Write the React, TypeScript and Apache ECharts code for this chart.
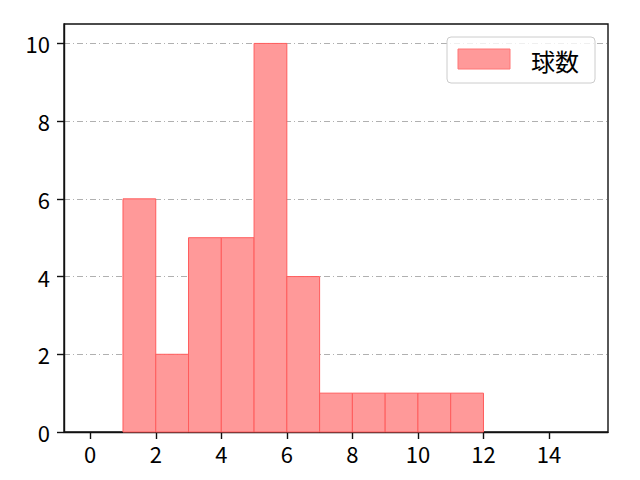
import React, { useEffect, useRef } from "react";
import * as echarts from "echarts";

const binStarts = [1, 2, 3, 4, 5, 6, 7, 8, 9, 10, 11];
const counts = [6, 2, 5, 5, 10, 4, 1, 1, 1, 1, 1];
const binWidth = 1;
const xTicks = [0, 2, 4, 6, 8, 10, 12, 14];
const yTicks = [0, 2, 4, 6, 8, 10];
const seriesName = "球数";

const FONT = "'Noto Sans CJK JP', sans-serif";

export default function App() {
  const ref = useRef<HTMLDivElement>(null);
  useEffect(() => {
    document.body.style.margin = "0";
    const chart = echarts.init(ref.current!, null, { renderer: "svg" });
    const data = binStarts.map((s, i) => [s, counts[i]]);
    chart.setOption({
      animation: false,
      backgroundColor: "#fff",
      grid: {
        left: 64,
        right: 32,
        top: 24,
        bottom: 48,
        show: true,
        borderColor: "#111",
        borderWidth: 1.4,
        backgroundColor: "transparent",
      },
      xAxis: {
        type: "value",
        min: -0.8,
        max: 15.8,
        axisLine: { show: true, onZero: false, lineStyle: { color: "#111", width: 1.4 } },
        axisTick: { show: true, customValues: xTicks, length: 7, lineStyle: { color: "#111", width: 1.4 } },
        axisLabel: { customValues: xTicks, color: "#000", fontSize: 22, fontFamily: FONT, margin: 10 },
        splitLine: { show: false },
      },
      yAxis: {
        type: "value",
        min: 0,
        max: 10.5,
        interval: 2,
        axisLine: { show: true, onZero: false, lineStyle: { color: "#111", width: 1.4 } },
        axisTick: { show: true, customValues: yTicks, length: 7, lineStyle: { color: "#111", width: 1.4 } },
        axisLabel: { customValues: yTicks, color: "#000", fontSize: 22, fontFamily: FONT, margin: 14 },
        splitLine: {
          show: true,
          lineStyle: { color: "#b0b0b0", width: 1, type: [6, 3, 1, 3] },
        },
      },
      series: [
        {
          name: seriesName,
          type: "custom",
          data,
          renderItem: (params: any, api: any) => {
            const start = api.value(0);
            const v = api.value(1);
            const p0 = api.coord([start, 0]);
            const p1 = api.coord([start + binWidth, v]);
            return {
              type: "rect",
              shape: { x: p0[0], y: p1[1], width: p1[0] - p0[0], height: p0[1] - p1[1] },
              style: { fill: "#ff9999", stroke: "#ff5c5c", lineWidth: 1 },
            };
          },
          encode: { x: 0, y: 1 },
          z: 3,
        },
      ],
      graphic: [
        {
          type: "rect",
          shape: { x: 447, y: 37, width: 148, height: 46, r: 4 },
          style: { fill: "rgba(255,255,255,0.8)", stroke: "#cccccc", lineWidth: 1 },
          z: 10,
        },
        {
          type: "rect",
          shape: { x: 458, y: 49, width: 52, height: 20 },
          style: { fill: "#ff9999", stroke: "#ff7777", lineWidth: 1 },
          z: 11,
        },
        {
          type: "text",
          x: 531,
          y: 60,
          style: { text: seriesName, fontSize: 24, fontFamily: FONT, fill: "#000", verticalAlign: "middle" },
          z: 11,
        },
      ],
    });
    return () => chart.dispose();
  }, []);
  return <div ref={ref} style={{ position: "absolute", left: 0, top: 0, width: 640, height: 480 }} />;
}
